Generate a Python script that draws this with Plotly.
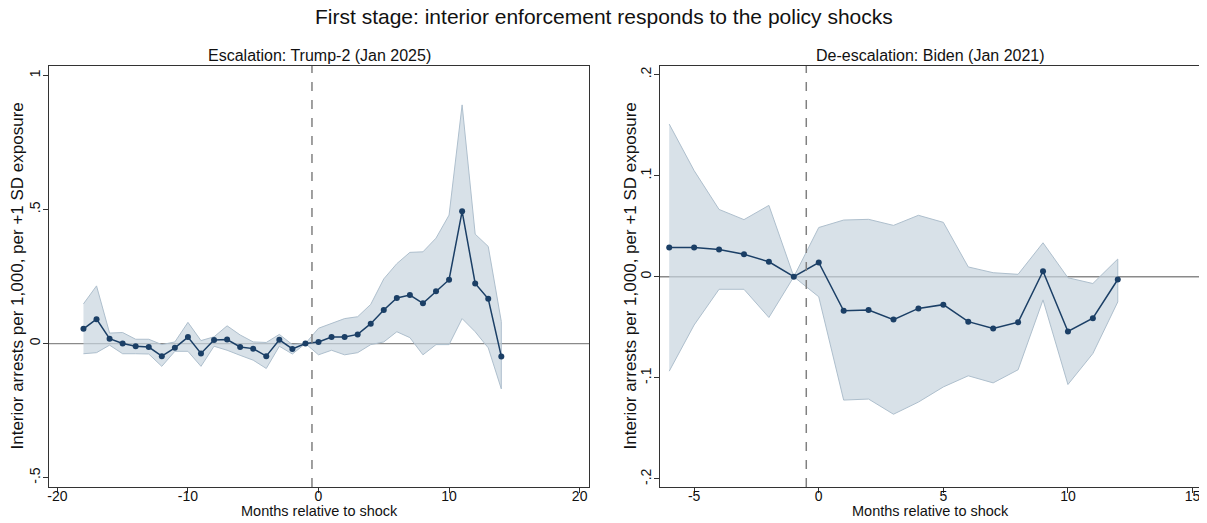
import plotly.graph_objects as go

# ---- Data: Escalation (Trump-2, Jan 2025) ----
esc_months = list(range(-18, 15))
esc_coef = [0.055, 0.091, 0.018, 0.000, -0.010, -0.013, -0.047, -0.016, 0.024, -0.037,
            0.013, 0.015, -0.013, -0.019, -0.047, 0.014, -0.020, 0.000, 0.006, 0.024,
            0.024, 0.034, 0.074, 0.125, 0.170, 0.181, 0.150, 0.195, 0.238, 0.493,
            0.224, 0.167, -0.048]
esc_upper = [0.148, 0.215, 0.039, 0.041, 0.016, 0.016, -0.004, 0.006, 0.079, 0.011,
             0.025, 0.066, 0.032, 0.006, 0.004, 0.034, -0.004, 0.000, 0.057, 0.076,
             0.093, 0.100, 0.146, 0.241, 0.298, 0.340, 0.342, 0.393, 0.479, 0.890,
             0.408, 0.362, 0.082]
esc_lower = [-0.038, -0.034, -0.006, -0.038, -0.038, -0.039, -0.085, -0.029, -0.029, -0.085,
             -0.010, -0.025, -0.044, -0.062, -0.093, -0.010, -0.039, 0.000, -0.042, -0.025,
             -0.042, -0.034, -0.004, 0.006, 0.044, 0.022, -0.042, -0.004, -0.004, 0.093,
             0.044, -0.016, -0.169]

# ---- Data: De-escalation (Biden, Jan 2021) ----
deesc_months = list(range(-6, 13))
deesc_coef = [0.0289, 0.0289, 0.0269, 0.0222, 0.0148, 0.0, 0.0141, -0.0336, -0.0329,
              -0.0424, -0.0313, -0.0276, -0.0444, -0.0511, -0.0450, 0.0054, -0.0541,
              -0.0410, -0.0027]
deesc_upper = [0.151, 0.105, 0.0666, 0.0565, 0.0706, 0.0, 0.0487, 0.0561, 0.0568,
               0.0508, 0.0608, 0.0538, 0.0097, 0.0040, 0.0024, 0.0336, -0.0010,
               -0.0067, 0.0175]
deesc_lower = [-0.0934, -0.0477, -0.0124, -0.0124, -0.0403, 0.0, -0.0198, -0.122, -0.121,
               -0.136, -0.124, -0.109, -0.098, -0.105, -0.092, -0.0229, -0.1066,
               -0.076, -0.0249]

# ---- Axis ticks ----
esc_xticks = [-20, -10, 0, 10, 20]
esc_xticklabels = ["-20", "-10", "0", "10", "20"]
esc_yticks = [-0.5, 0, 0.5, 1]
esc_yticklabels = ["-.5", "0", ".5", "1"]
deesc_xticks = [-5, 0, 5, 10, 15]
deesc_xticklabels = ["-5", "0", "5", "10", "15"]
deesc_yticks = [-0.2, -0.1, 0, 0.1, 0.2]
deesc_yticklabels = ["-.2", "-.1", "0", ".1", ".2"]

SHOCK_X = -0.5

TITLE = "First stage: interior enforcement responds to the policy shocks"
SUB_ESC = "Escalation: Trump-2 (Jan 2025)"
SUB_DEESC = "De-escalation: Biden (Jan 2021)"
XTITLE = "Months relative to shock"
YTITLE = "Interior arrests per 1,000, per +1 SD exposure"

NAVY = "#1b3f66"
FILL = "rgba(200,212,222,0.7)"
FILL_LINE = "#aebfcd"
FONT = "Liberation Sans, Arial, Helvetica, sans-serif"
TXT = "#111111"

# The page body has an 8px default margin: build the figure 8px smaller and
# express every target position relative to the figure origin at (8, 8).
OFF = 8
W, H = 1207 - OFF, 523 - OFF
ML, MR, MT, MB = 49 - OFF, 6, 66 - OFF, 44 - OFF
PW, PH = W - ML - MR, H - MT - MB


def px(xp):
    return (xp - OFF - ML) / PW


def py(yp):
    return (H - MB - (yp - OFF)) / PH


LEFT_DOM = [0.0, px(589.3)]
RIGHT_DOM = [px(660.0), 1.0]

fig = go.Figure()


def add_panel(months, coef, upper, lower, xa, ya):
    fig.add_trace(go.Scatter(
        x=months + months[::-1], y=upper + lower[::-1],
        fill="toself", fillcolor=FILL, mode="lines",
        line=dict(color=FILL_LINE, width=1), hoverinfo="skip",
        showlegend=False, xaxis=xa, yaxis=ya))
    fig.add_trace(go.Scatter(
        x=months, y=coef, mode="lines+markers",
        line=dict(color=NAVY, width=1.5),
        marker=dict(color=NAVY, size=6),
        showlegend=False, xaxis=xa, yaxis=ya))


add_panel(esc_months, esc_coef, esc_upper, esc_lower, "x", "y")
add_panel(deesc_months, deesc_coef, deesc_upper, deesc_lower, "x2", "y2")

axis_common = dict(showline=True, linecolor="#333333", linewidth=1.3, mirror=True,
                   showgrid=False, zeroline=False, ticks="outside", ticklen=5,
                   tickcolor="#333333", automargin=False,
                   tickfont=dict(size=14, color=TXT, family=FONT))

fig.update_layout(
    width=W, height=H,
    margin=dict(l=ML, r=MR, t=MT, b=MB, autoexpand=False),
    paper_bgcolor="white", plot_bgcolor="white",
    font=dict(family=FONT, color=TXT),
    xaxis=dict(domain=LEFT_DOM, range=[-20.64, 20.74],
               tickvals=esc_xticks, ticktext=esc_xticklabels, anchor="y",
               ticklabelstandoff=-9, **axis_common),
    yaxis=dict(domain=[0, 1], range=[-0.535, 1.035],
               tickvals=esc_yticks, ticktext=esc_yticklabels, tickangle=-90,
               ticklabelstandoff=-3, anchor="x", **axis_common),
    xaxis2=dict(domain=RIGHT_DOM, range=[-6.37, 15.34],
                tickvals=deesc_xticks, ticktext=deesc_xticklabels, anchor="y2",
                ticklabelstandoff=-9, **axis_common),
    yaxis2=dict(domain=[0, 1], range=[-0.208, 0.2085],
                tickvals=deesc_yticks, ticktext=deesc_yticklabels, tickangle=-90,
                ticklabelstandoff=-3, anchor="x2", **axis_common),
    annotations=[
        dict(text=TITLE, x=px(604), y=py(16), xref="paper", yref="paper",
             showarrow=False, font=dict(size=21, family=FONT, color=TXT),
             xanchor="center", yanchor="middle", borderpad=0),
        dict(text=SUB_ESC, x=sum(LEFT_DOM) / 2, y=py(56), xref="paper",
             yref="paper", showarrow=False, font=dict(size=16, family=FONT, color=TXT),
             xanchor="center", yanchor="middle"),
        dict(text=SUB_DEESC, x=sum(RIGHT_DOM) / 2, y=py(56), xref="paper",
             yref="paper", showarrow=False, font=dict(size=16, family=FONT, color=TXT),
             xanchor="center", yanchor="middle"),
        dict(text=XTITLE, x=sum(LEFT_DOM) / 2, y=py(511), xref="paper",
             yref="paper", showarrow=False, font=dict(size=14.5, family=FONT, color=TXT),
             xanchor="center", yanchor="middle", borderpad=0),
        dict(text=XTITLE, x=sum(RIGHT_DOM) / 2, y=py(511), xref="paper",
             yref="paper", showarrow=False, font=dict(size=14.5, family=FONT, color=TXT),
             xanchor="center", yanchor="middle", borderpad=0),
        dict(text=YTITLE, x=px(17), y=0.5, xref="paper", yref="paper",
             showarrow=False, textangle=-90,
             font=dict(size=17, family=FONT, color=TXT),
             xanchor="center", yanchor="middle"),
        dict(text=YTITLE, x=px(630), y=0.5, xref="paper", yref="paper",
             showarrow=False, textangle=-90,
             font=dict(size=17, family=FONT, color=TXT),
             xanchor="center", yanchor="middle"),
    ],
    shapes=[
        dict(type="line", xref="x domain", yref="y", x0=0, x1=1, y0=0, y1=0,
             line=dict(color="#8a8a8a", width=1.3), layer="below"),
        dict(type="line", xref="x", yref="y domain", x0=SHOCK_X, x1=SHOCK_X, y0=0, y1=1,
             line=dict(color="#808080", width=1.5, dash="dash")),
        dict(type="line", xref="x2 domain", yref="y2", x0=0, x1=1, y0=0, y1=0,
             line=dict(color="#8a8a8a", width=1.3), layer="below"),
        dict(type="line", xref="x2", yref="y2 domain", x0=SHOCK_X, x1=SHOCK_X, y0=0, y1=1,
             line=dict(color="#808080", width=1.5, dash="dash")),
    ],
)

fig.write_html("out.html")
